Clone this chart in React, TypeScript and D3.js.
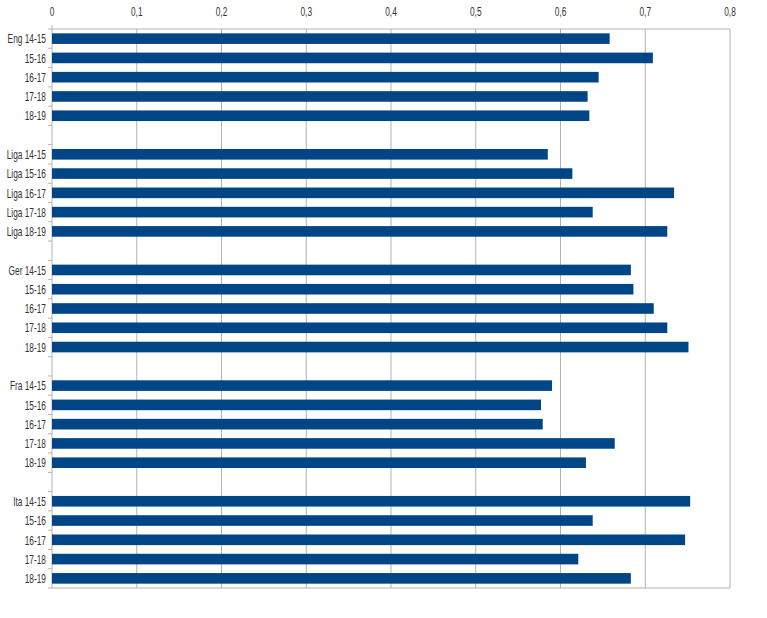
import React from "react";
import * as d3 from "d3";

const categories: string[] = [
  "Eng 14-15", "15-16", "16-17", "17-18", "18-19", "",
  "Liga 14-15", "Liga 15-16", "Liga 16-17", "Liga 17-18", "Liga 18-19", "",
  "Ger 14-15", "15-16", "16-17", "17-18", "18-19", "",
  "Fra 14-15", "15-16", "16-17", "17-18", "18-19", "",
  "Ita 14-15", "15-16", "16-17", "17-18", "18-19",
];
const values: (number | null)[] = [
  0.658, 0.709, 0.645, 0.632, 0.634, null,
  0.585, 0.614, 0.734, 0.638, 0.726, null,
  0.683, 0.686, 0.710, 0.726, 0.751, null,
  0.590, 0.577, 0.579, 0.664, 0.630, null,
  0.753, 0.638, 0.747, 0.621, 0.683,
];
const xTicks: number[] = [0, 0.1, 0.2, 0.3, 0.4, 0.5, 0.6, 0.7, 0.8];
const xTickLabels: string[] = ["0", "0,1", "0,2", "0,3", "0,4", "0,5", "0,6", "0,7", "0,8"];

const W = 767, H = 618;
const left = 52, right = 730, top = 29, bottom = 588;
const gridColor = "#b3b3b3";
const barColor = "#004586";
const font = "'Liberation Sans', Arial, sans-serif";
const squeeze = 0.64;

export default function App() {
  const keys = categories.map((c, i) => `${i}`);
  const x = d3.scaleLinear().domain([0, 0.8]).range([left, right]);
  const y = d3.scaleBand<string>().domain(keys).range([top, bottom]).paddingInner(0.45).paddingOuter(0.225);
  const step = y.step();
  return (
    <svg width={W} height={H} style={{ position: "absolute", left: 0, top: 0, background: "#fff" }}>
      {xTicks.map((t, i) => (
        <g key={`g${i}`}>
          <line x1={x(t)} x2={x(t)} y1={top - (i === 0 ? 4 : 0)} y2={bottom} stroke={gridColor} strokeWidth={1} />
          <text transform={`translate(${x(t)},16) scale(${squeeze},1)`} textAnchor="middle" fontFamily={font} fontSize={13} fill="#333">{xTickLabels[i]}</text>
        </g>
      ))}
      <line x1={left} x2={right} y1={top} y2={top} stroke={gridColor} />
      <line x1={left} x2={right} y1={bottom} y2={bottom} stroke={gridColor} />
      {d3.range(categories.length + 1).map((i) => (
        <line key={`t${i}`} x1={left - 4} x2={left} y1={top + i * step} y2={top + i * step} stroke={gridColor} />
      ))}
      {values.map((v, i) =>
        v == null ? null : (
          <rect key={`b${i}`} x={x(0)} y={y(keys[i])} width={x(v) - x(0)} height={y.bandwidth()} fill={barColor} />
        )
      )}
      {categories.map((c, i) => (
        <text key={`l${i}`} transform={`translate(${left - 6},${(y(keys[i]) as number) + y.bandwidth() / 2}) scale(${squeeze},1)`} dy="0.36em" textAnchor="end" fontFamily={font} fontSize={13} fill="#333">{c}</text>
      ))}
    </svg>
  );
}
